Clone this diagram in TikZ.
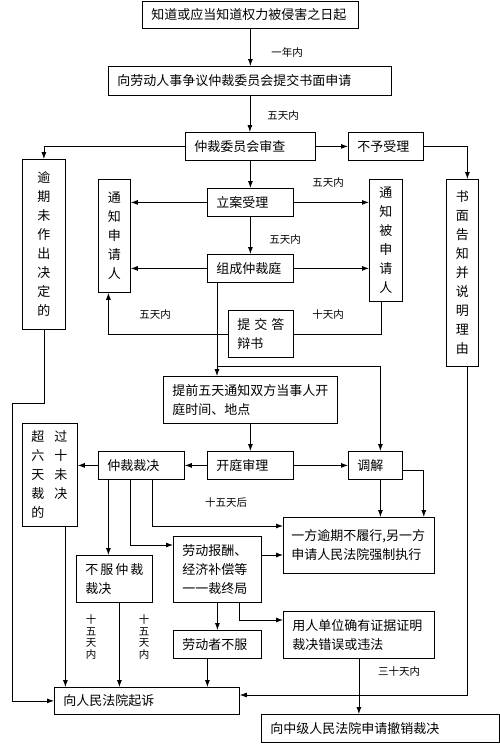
\documentclass[tikz,border=0pt]{standalone}
\usepackage{fontspec}
\setmainfont{Noto Sans CJK SC}
\usetikzlibrary{arrows.meta}
\begin{document}
\begin{tikzpicture}[x=1pt,y=-1pt, line width=0.8pt, >={Latex[length=7pt,width=5pt]},
	box/.style={draw, anchor=north west, inner xsep=9pt, inner ysep=0pt, align=left, font=\fontsize{13}{19}\selectfont},
	vbox/.style={draw, anchor=north west, inner sep=0pt, align=center, font=\fontsize{13}{19}\selectfont},
	lab/.style={inner sep=0pt, font=\fontsize{10.5}{11.5}\selectfont}]

	\useasboundingbox (0,0) rectangle (500,753);

	% boxes
	\node[box, text width=198pt, minimum height=27.5pt] (start) at (142,0.5) {知道或应当知道权力被侵害之日起};
	\node[box, text width=265pt, minimum height=29pt] (apply) at (108,66) {向劳动人事争议仲裁委员会提交书面申请};
	\node[box, text width=112pt, minimum height=28pt] (review) at (185,132) {仲裁委员会审查};
	\node[box, text width=57pt, minimum height=28pt] (reject) at (348,132) {不予受理};
	\node[vbox, minimum width=43pt, minimum height=170pt] (overdue) at (22,159) {逾\\期\\未\\作\\出\\决\\定\\的};
	\node[vbox, minimum width=32pt, minimum height=113pt] (notifyA) at (98,179) {通\\知\\申\\请\\人};
	\node[vbox, minimum width=33pt, minimum height=122pt] (notifyB) at (369,179) {通\\知\\被\\申\\请\\人};
	\node[vbox, minimum width=32pt, minimum height=187pt] (written) at (446,179) {书\\面\\告\\知\\并\\说\\明\\理\\由};
	\node[box, text width=68pt, minimum height=28pt] (accept) at (207,188) {立案受理};
	\node[box, text width=68pt, minimum height=28pt] (tribunal) at (207,254) {组成仲裁庭};
	\node[box, text width=47pt, minimum height=47pt] (defence) at (228,310) {提\hspace{4pt}交\hspace{4pt}答\\辩书};
	\node[box, text width=156pt, minimum height=47pt] (notice) at (163,376) {提前五天通知双方当事人开\\庭时间、地点};
	\node[box, text width=37pt, minimum height=103pt] (overtime) at (22,423) {超\hspace{10pt}过\\六\hspace{10pt}十\\天\hspace{10pt}未\\裁\hspace{10pt}决\\的};
	\node[box, text width=68pt, minimum height=28pt] (award) at (98,451) {仲裁裁决};
	\node[box, text width=68pt, minimum height=28pt] (hearing) at (207,451) {开庭审理};
	\node[box, text width=36pt, minimum height=28pt] (mediate) at (348,451) {调解};
	\node[box, text width=135pt, minimum height=56pt, inner xsep=8pt] (enforce) at (283,517) {一方逾期不履行,另一方\\申请人民法院强制执行};
	\node[box, text width=70pt, minimum height=66pt] (fees) at (173,536) {劳动报酬、\\经济补偿等\\一一裁终局};
	\node[box, text width=58pt, minimum height=47pt] (refuse) at (76,555) {不\hspace{2pt}服\hspace{2pt}仲\hspace{2pt}裁\\裁决};
	\node[box, text width=133pt, minimum height=47pt] (employer) at (283,611) {用人单位确有证据证明\\裁决错误或违法};
	\node[box, text width=70pt, minimum height=28pt] (worker) at (173,630) {劳动者不服};
	\node[box, text width=167pt, minimum height=27pt] (court) at (54,687) {向人民法院起诉};
	\node[box, text width=220pt, minimum height=28pt] (mid) at (261,714) {向中级人民法院申请撤销裁决};

	% time limits
	\node[lab] (t1) at (287,52) {一年内};
	\node[lab] (t2) at (283,116) {五天内};
	\node[lab] (t3) at (328,183) {五天内};
	\node[lab] (t4) at (285,240) {五天内};
	\node[lab] (t5) at (155,315) {五天内};
	\node[lab] (t6) at (328,315) {十天内};
	\node[lab] (t7) at (226,503) {十五天后};
	\node[lab, align=center] (t8) at (91,637) {十\\五\\天\\内};
	\node[lab, align=center] (t9) at (144,637) {十\\五\\天\\内};
	\node[lab] (t10) at (399,672) {三十天内};

	\coordinate (split) at (217,366);
	\coordinate (bend) at (12,403);

	% connectors
	\draw[->] (start.south) -- (start.south |- apply.north);
	\draw[->] (apply.south) -- (apply.south |- review.north);
	\draw[->] (review.east) -- (reject.west);
	\draw[->] (review.west) -| (overdue.north);
	\draw[->] (reject.east) -| ([xshift=5pt]written.north);
	\draw[->] (review.south) -- (accept.north);
	\draw[->] (accept.west) -- (accept.west -| notifyA.east);
	\draw[->] (accept.east) -- (accept.east -| notifyB.west);
	\draw[->] (accept.south) -- (tribunal.north);
	\draw[->] (tribunal.west) -- (tribunal.west -| notifyA.east);
	\draw[->] (tribunal.east) -- (tribunal.east -| notifyB.west);
	\draw ([xshift=-5pt]notifyB.south) |- (defence.east);
	\draw[->] (defence.west) -| ([xshift=-6pt]notifyA.south);

	\draw[->] (tribunal.south -| split) -- (split |- notice.north);
	\draw[->] (split) -| ([xshift=5pt]mediate.north);
	\draw[->] (notice.south) -- (notice.south |- hearing.north);
	\draw[->] (hearing.east) -- (mediate.west);
	\draw[->] (hearing.west) -- (award.east);
	\draw[->] (award.west) -- (award.west -| overtime.east);
	\draw[->] ([xshift=15.5pt]overtime.south) -- ([xshift=15.5pt]overtime.south |- court.north);
	\draw[->] (overdue.south) |- (bend) |- (court.west);

	\draw[->] ([xshift=5pt]mediate.south) -- ([xshift=5pt]mediate.south |- enforce.north);
	\draw[->] ([yshift=-5pt]mediate.east) -| ([xshift=-11pt]enforce.north east);
	\draw[->] ([xshift=-33pt]award.south) -- ([xshift=-33pt]award.south |- refuse.north);
	\draw[->] ([xshift=-11pt]award.south) |- ([yshift=-9pt]fees.north west);
	\draw[->] ([xshift=11pt]award.south) |- ([yshift=-9pt]enforce.north west);
	\draw[->] ([yshift=-19pt]fees.north east) -- ([yshift=-19pt]fees.north east -| enforce.west);
	\draw[->] (fees.south) -- (worker.north);
	\draw[->] ([xshift=22pt]fees.south) |- ([yshift=-9pt]employer.north west);
	\draw[->] ([xshift=5pt]refuse.south) -- ([xshift=5pt]refuse.south |- court.north);
	\draw[->] ([xshift=-10pt]worker.south) -- ([xshift=-10pt]worker.south |- court.north);
	\draw[->] ([xshift=5pt]written.south) |- ([yshift=-8pt]court.north east);
	\draw[->] (employer.south) -- (employer.south |- mid.north);

\end{tikzpicture}
\end{document}
